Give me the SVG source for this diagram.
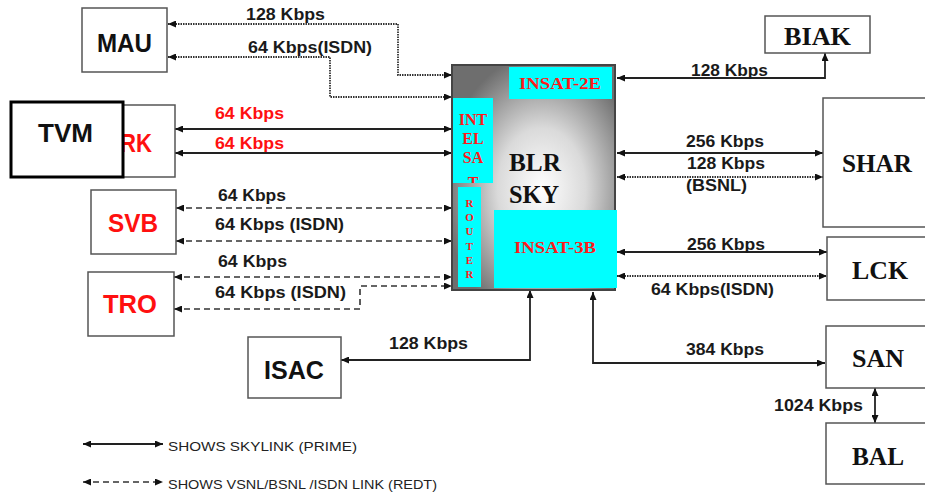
<svg xmlns="http://www.w3.org/2000/svg" width="925" height="501" viewBox="0 0 925 501">
<style>
.box{fill:#fff;stroke:#555;stroke-width:1.5}
.lbl{font-family:"Liberation Sans",Arial,sans-serif;font-weight:bold;font-size:16px;fill:#1a1a1a}
.ns{font-family:"Liberation Sans",Arial,sans-serif;font-weight:bold;font-size:26px;fill:#111}
.nt{font-family:"Liberation Serif","Times New Roman",serif;font-weight:bold;font-size:26px;fill:#111}
text.red{fill:#ff1010}
.cy{fill:#00ffff}
.st{font-family:"Liberation Serif","Times New Roman",serif;font-weight:bold;fill:#ff1a1a}
.solid{fill:none;stroke:#222;stroke-width:1.8}
.dash{fill:none;stroke:#333;stroke-width:1.6;stroke-dasharray:6 4}
.dot{fill:none;stroke:#333;stroke-width:1.8;stroke-dasharray:1.5 1}
.leg{font-family:"Liberation Sans",Arial,sans-serif;font-size:13.5px;fill:#222}
</style>
<defs>
<marker id="ah" viewBox="0 0 8 7" refX="8" refY="3.5" markerWidth="8" markerHeight="7" markerUnits="userSpaceOnUse" orient="auto-start-reverse">
<path d="M0,0 L8,3.5 L0,7 z" fill="#111"/>
</marker>
<radialGradient id="g" cx="0.55" cy="0.55" r="0.6">
<stop offset="0" stop-color="#ffffff"/>
<stop offset="0.45" stop-color="#dadada"/>
<stop offset="1" stop-color="#6e6e6e"/>
</radialGradient>
<clipPath id="clipI"><rect x="453" y="98" width="40" height="85"/></clipPath>
</defs>

<g id="connectors">
<path class="dot" d="M168,24 H398 V75 H452" marker-start="url(#ah)" marker-end="url(#ah)"/>
<path class="dot" d="M168,57 H330 V97 H452" marker-start="url(#ah)" marker-end="url(#ah)"/>
<path class="solid" d="M175,129 H452" marker-start="url(#ah)" marker-end="url(#ah)"/>
<path class="solid" d="M175,153 H452" marker-start="url(#ah)" marker-end="url(#ah)"/>
<path class="dash" d="M176,208 H452" marker-start="url(#ah)" marker-end="url(#ah)"/>
<path class="dash" d="M176,241 H452" marker-start="url(#ah)" marker-end="url(#ah)"/>
<path class="dash" d="M174,277 H452" marker-start="url(#ah)" marker-end="url(#ah)"/>
<path class="dash" d="M174,309 H360 V286 H452" marker-start="url(#ah)" marker-end="url(#ah)"/>
<path class="solid" d="M341,360 H530 V290" marker-start="url(#ah)" marker-end="url(#ah)"/>
<path class="solid" d="M593,292 V363 H825" marker-start="url(#ah)" marker-end="url(#ah)"/>
<path class="solid" d="M617,78 H825 V53" marker-start="url(#ah)" marker-end="url(#ah)"/>
<path class="solid" d="M617,153 H823" marker-start="url(#ah)" marker-end="url(#ah)"/>
<path class="dot" d="M617,177 H823" marker-start="url(#ah)" marker-end="url(#ah)"/>
<path class="solid" d="M617,252 H827" marker-start="url(#ah)" marker-end="url(#ah)"/>
<path class="dot" d="M617,276 H827" marker-start="url(#ah)" marker-end="url(#ah)"/>
<path class="solid" d="M875,388 V423" marker-start="url(#ah)" marker-end="url(#ah)"/>

<text class="lbl" x="246" y="20" textLength="79" lengthAdjust="spacingAndGlyphs">128 Kbps</text>
<text class="lbl" x="248" y="53" textLength="124" lengthAdjust="spacingAndGlyphs">64 Kbps(ISDN)</text>
<text class="lbl red" x="215" y="119" textLength="69" lengthAdjust="spacingAndGlyphs">64 Kbps</text>
<text class="lbl red" x="215" y="149" textLength="69" lengthAdjust="spacingAndGlyphs">64 Kbps</text>
<text class="lbl" x="218" y="201" textLength="68" lengthAdjust="spacingAndGlyphs">64 Kbps</text>
<text class="lbl" x="215" y="230" textLength="129" lengthAdjust="spacingAndGlyphs">64 Kbps (ISDN)</text>
<text class="lbl" x="218" y="267" textLength="69" lengthAdjust="spacingAndGlyphs">64 Kbps</text>
<text class="lbl" x="215" y="298" textLength="131" lengthAdjust="spacingAndGlyphs">64 Kbps (ISDN)</text>
<text class="lbl" x="389" y="349" textLength="79" lengthAdjust="spacingAndGlyphs">128 Kbps</text>
<text class="lbl" x="691" y="76" textLength="77" lengthAdjust="spacingAndGlyphs">128 Kbps</text>
<text class="lbl" x="686" y="147" textLength="78" lengthAdjust="spacingAndGlyphs">256 Kbps</text>
<text class="lbl" x="687" y="169" textLength="78" lengthAdjust="spacingAndGlyphs">128 Kbps</text>
<text class="lbl" x="686" y="191" textLength="61" lengthAdjust="spacingAndGlyphs">(BSNL)</text>
<text class="lbl" x="687" y="250" textLength="78" lengthAdjust="spacingAndGlyphs">256 Kbps</text>
<text class="lbl" x="651" y="295" textLength="123" lengthAdjust="spacingAndGlyphs">64 Kbps(ISDN)</text>
<text class="lbl" x="686" y="355" textLength="78" lengthAdjust="spacingAndGlyphs">384 Kbps</text>
<text class="lbl" x="774" y="411" textLength="89" lengthAdjust="spacingAndGlyphs">1024 Kbps</text>
</g>

<g id="MAU">
<rect class="box" x="82" y="8" width="85" height="64"/>
<text class="ns" x="97" y="52" textLength="55" lengthAdjust="spacingAndGlyphs">MAU</text>
</g>
<g id="RK">
<rect class="box" x="82" y="105" width="93" height="72"/>
<text class="ns red" x="120" y="152" textLength="32" lengthAdjust="spacingAndGlyphs">RK</text>
</g>
<g id="TVM">
<rect x="11" y="102" width="112" height="75" fill="#fff" stroke="#000" stroke-width="3"/>
<text class="ns" x="38" y="142" textLength="55" lengthAdjust="spacingAndGlyphs">TVM</text>
</g>
<g id="SVB">
<rect class="box" x="91" y="190" width="85" height="64"/>
<text class="ns red" x="108" y="232" textLength="50" lengthAdjust="spacingAndGlyphs">SVB</text>
</g>
<g id="TRO">
<rect class="box" x="88" y="272" width="86" height="64"/>
<text class="ns red" x="103" y="313" textLength="54" lengthAdjust="spacingAndGlyphs">TRO</text>
</g>
<g id="ISAC">
<rect class="box" x="248" y="337" width="93" height="61"/>
<text class="ns" x="264" y="379" textLength="60" lengthAdjust="spacingAndGlyphs">ISAC</text>
</g>
<g id="BIAK">
<rect class="box" x="765" y="16" width="105" height="37"/>
<text class="nt" x="784" y="45" textLength="67" lengthAdjust="spacingAndGlyphs">BIAK</text>
</g>
<g id="SHAR">
<rect class="box" x="823" y="98" width="110" height="129"/>
<text class="nt" x="842" y="172" textLength="70" lengthAdjust="spacingAndGlyphs">SHAR</text>
</g>
<g id="LCK">
<rect class="box" x="827" y="237" width="110" height="63"/>
<text class="nt" x="852" y="279" textLength="56" lengthAdjust="spacingAndGlyphs">LCK</text>
</g>
<g id="SAN">
<rect class="box" x="826" y="326" width="110" height="62"/>
<text class="nt" x="852" y="367" textLength="52" lengthAdjust="spacingAndGlyphs">SAN</text>
</g>
<g id="BAL">
<rect class="box" x="826" y="423" width="110" height="61"/>
<text class="nt" x="852" y="465" textLength="52" lengthAdjust="spacingAndGlyphs">BAL</text>
</g>

<g id="BLRSKY">
<rect x="452" y="65" width="163" height="225" fill="url(#g)" stroke="#444" stroke-width="2"/>
<rect class="cy" x="509" y="67" width="103" height="32"/>
<text class="st" x="519" y="89" font-size="17" textLength="82" lengthAdjust="spacingAndGlyphs">INSAT-2E</text>
<rect class="cy" x="453" y="98" width="40" height="85"/>
<g class="st" font-size="16" text-anchor="middle" clip-path="url(#clipI)">
<text x="473" y="125">INT</text>
<text x="473" y="144">EL</text>
<text x="473" y="163">SA</text>
<text x="473" y="188">T</text>
</g>
<rect class="cy" x="458" y="187" width="23" height="100"/>
<g class="st" font-size="11" text-anchor="middle">
<text x="469.5" y="207">R</text>
<text x="469.5" y="221">O</text>
<text x="469.5" y="235">U</text>
<text x="469.5" y="250">T</text>
<text x="469.5" y="264">E</text>
<text x="469.5" y="278">R</text>
</g>
<rect class="cy" x="494" y="210" width="123" height="78"/>
<text class="st" x="514" y="253" font-size="17" textLength="82" lengthAdjust="spacingAndGlyphs">INSAT-3B</text>
<text class="nt" x="509" y="171" textLength="52" lengthAdjust="spacingAndGlyphs">BLR</text>
<text class="nt" x="509" y="203" textLength="50" lengthAdjust="spacingAndGlyphs">SKY</text>
</g>

<g id="legend">
<path class="solid" d="M83,444 H163" stroke-width="1.4" marker-start="url(#ah)" marker-end="url(#ah)"/>
<text class="leg" x="168" y="451" textLength="189" lengthAdjust="spacingAndGlyphs">SHOWS SKYLINK (PRIME)</text>
<path class="dash" d="M83,482 H163" stroke="#777" stroke-width="1.4" stroke-dasharray="4 3" marker-start="url(#ah)" marker-end="url(#ah)"/>
<text class="leg" x="168" y="489" textLength="269" lengthAdjust="spacingAndGlyphs">SHOWS VSNL/BSNL /ISDN LINK (REDT)</text>
</g>
</svg>
